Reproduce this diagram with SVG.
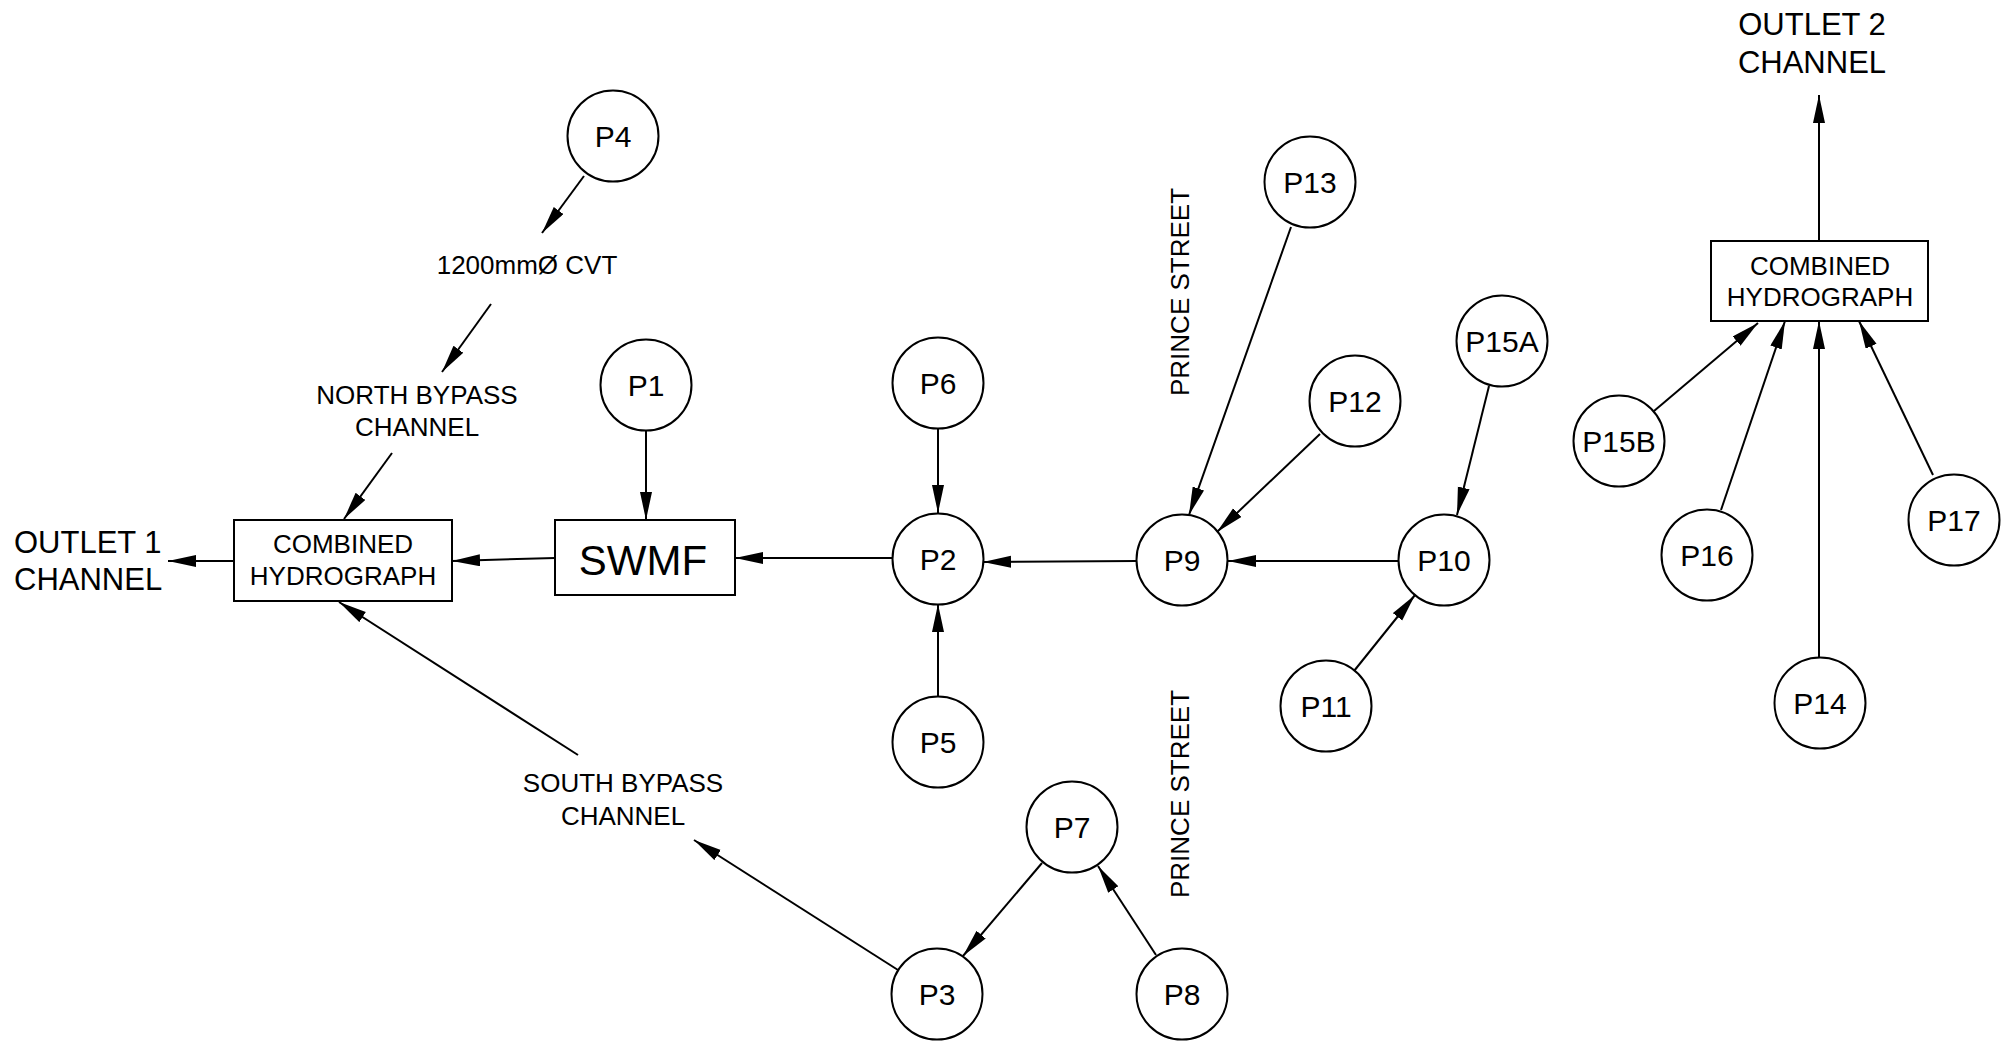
<svg xmlns="http://www.w3.org/2000/svg" width="2007" height="1044" viewBox="0 0 2007 1044">
<defs>
<marker id="ah" markerUnits="userSpaceOnUse" markerWidth="30" markerHeight="14" refX="28" refY="6" orient="auto">
<path d="M0,0 L28,6 L0,12 z" fill="#000"/>
</marker>
<style>
text{font-family:"Liberation Sans",Arial,sans-serif;fill:#000}
.n circle{fill:#fff;stroke:#000;stroke-width:2}
.n text{font-size:30px;text-anchor:middle}
.box rect{fill:#fff;stroke:#000;stroke-width:2}
.s{font-size:26px;text-anchor:middle}
.big{font-size:31px}
#connectors line{stroke:#000;stroke-width:2;marker-end:url(#ah)}
</style>
</defs>
<rect width="2007" height="1044" fill="#fff"/>
<g id="connectors">
<line x1="584" y1="176" x2="542" y2="233"/>
<line x1="491" y1="304" x2="442" y2="372"/>
<line x1="392" y1="453" x2="344" y2="519"/>
<line x1="234" y1="561" x2="168" y2="561"/>
<line x1="555" y1="558" x2="452" y2="561"/>
<line x1="646" y1="431" x2="646" y2="520"/>
<line x1="892" y1="558" x2="735" y2="558"/>
<line x1="938" y1="429" x2="938" y2="513"/>
<line x1="938" y1="696" x2="938" y2="604"/>
<line x1="1137" y1="561" x2="983" y2="562"/>
<line x1="1399" y1="561" x2="1228" y2="561"/>
<line x1="1291" y1="227" x2="1189" y2="515"/>
<line x1="1320" y1="434" x2="1217" y2="532"/>
<line x1="1489" y1="386" x2="1457" y2="515"/>
<line x1="1354" y1="671" x2="1415" y2="595"/>
<line x1="898" y1="970" x2="694" y2="840"/>
<line x1="578" y1="755" x2="339" y2="602"/>
<line x1="1042" y1="863" x2="963" y2="956"/>
<line x1="1156" y1="955" x2="1098" y2="866"/>
<line x1="1819" y1="241" x2="1819" y2="95"/>
<line x1="1654" y1="411" x2="1758" y2="323"/>
<line x1="1721" y1="510" x2="1785" y2="321"/>
<line x1="1819" y1="657" x2="1819" y2="321"/>
<line x1="1933" y1="475" x2="1859" y2="321"/>
</g>
<g id="outlet1"><text class="big" x="14" y="553">OUTLET 1</text><text class="big" x="14" y="590">CHANNEL</text></g>
<g id="outlet2"><text class="big" x="1812" y="35" text-anchor="middle">OUTLET 2</text><text class="big" x="1812" y="73" text-anchor="middle">CHANNEL</text></g>
<g id="cvt"><text class="s" x="527" y="274">1200mmØ CVT</text></g>
<g id="north"><text class="s" x="417" y="404">NORTH BYPASS</text><text class="s" x="417" y="436">CHANNEL</text></g>
<g id="south"><text class="s" x="623" y="792">SOUTH BYPASS</text><text class="s" x="623" y="825">CHANNEL</text></g>
<g id="prince1"><text class="s" transform="translate(1189,292) rotate(-90)">PRINCE STREET</text></g>
<g id="prince2"><text class="s" transform="translate(1189,794) rotate(-90)">PRINCE STREET</text></g>
<g id="ch1" class="box"><rect x="234" y="520" width="218" height="81"/><text class="s" x="343" y="553">COMBINED</text><text class="s" x="343" y="585">HYDROGRAPH</text></g>
<g id="ch2" class="box"><rect x="1711" y="241" width="217" height="80"/><text class="s" x="1820" y="275">COMBINED</text><text class="s" x="1820" y="306">HYDROGRAPH</text></g>
<g id="swmf" class="box"><rect x="555" y="520" width="180" height="75"/><text x="643" y="575" font-size="42" text-anchor="middle">SWMF</text></g>
<g id="P4" class="n"><circle cx="613" cy="136" r="45.5"/><text x="613" y="147">P4</text></g>
<g id="P1" class="n"><circle cx="646" cy="385" r="45.5"/><text x="646" y="396">P1</text></g>
<g id="P6" class="n"><circle cx="938" cy="383" r="45.5"/><text x="938" y="394">P6</text></g>
<g id="P2" class="n"><circle cx="938" cy="559" r="45.5"/><text x="938" y="570">P2</text></g>
<g id="P5" class="n"><circle cx="938" cy="742" r="45.5"/><text x="938" y="753">P5</text></g>
<g id="P9" class="n"><circle cx="1182" cy="560" r="45.5"/><text x="1182" y="571">P9</text></g>
<g id="P13" class="n"><circle cx="1310" cy="182" r="45.5"/><text x="1310" y="193">P13</text></g>
<g id="P12" class="n"><circle cx="1355" cy="401" r="45.5"/><text x="1355" y="412">P12</text></g>
<g id="P10" class="n"><circle cx="1444" cy="560" r="45.5"/><text x="1444" y="571">P10</text></g>
<g id="P15A" class="n"><circle cx="1502" cy="341" r="45.5"/><text x="1502" y="352">P15A</text></g>
<g id="P11" class="n"><circle cx="1326" cy="706" r="45.5"/><text x="1326" y="717">P11</text></g>
<g id="P7" class="n"><circle cx="1072" cy="827" r="45.5"/><text x="1072" y="838">P7</text></g>
<g id="P3" class="n"><circle cx="937" cy="994" r="45.5"/><text x="937" y="1005">P3</text></g>
<g id="P8" class="n"><circle cx="1182" cy="994" r="45.5"/><text x="1182" y="1005">P8</text></g>
<g id="P15B" class="n"><circle cx="1619" cy="441" r="45.5"/><text x="1619" y="452">P15B</text></g>
<g id="P16" class="n"><circle cx="1707" cy="555" r="45.5"/><text x="1707" y="566">P16</text></g>
<g id="P17" class="n"><circle cx="1954" cy="520" r="45.5"/><text x="1954" y="531">P17</text></g>
<g id="P14" class="n"><circle cx="1820" cy="703" r="45.5"/><text x="1820" y="714">P14</text></g>
</svg>
